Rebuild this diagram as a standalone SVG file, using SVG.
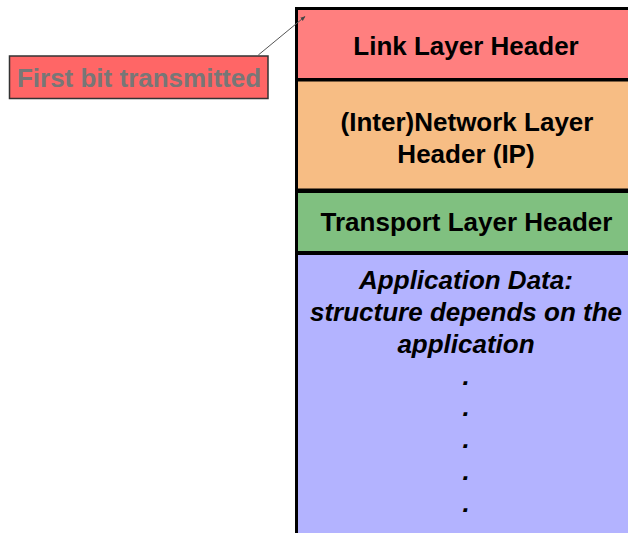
<svg xmlns="http://www.w3.org/2000/svg" width="628" height="533" viewBox="0 0 628 533">
<defs>
<style>
.box{stroke:#000;stroke-width:3}
.t{font-family:"Liberation Sans",Arial,sans-serif;font-weight:bold;font-size:26px;fill:#000;text-anchor:middle}
.i{font-style:italic}
.lbl{font-family:"Liberation Sans",Arial,sans-serif;font-weight:bold;font-size:26px;fill:#777777;text-anchor:middle}
</style>
<marker id="ah" viewBox="0 0 10 10" refX="9" refY="5" markerWidth="5" markerHeight="5" orient="auto">
<path d="M0,1 L10,5 L0,9 z" fill="#444"/>
</marker>
</defs>
<rect width="628" height="533" fill="#ffffff"/>
<g id="app">
<rect class="box" x="296.5" y="253.5" width="345" height="300" fill="#b3b3ff"/>
<text class="t i" x="466" y="289.3">Application Data:</text>
<text class="t i" x="466" y="321">structure depends on the</text>
<text class="t i" x="466" y="352.8">application</text>
<text class="t i" x="466" y="384.6">.</text>
<text class="t i" x="466" y="416.4">.</text>
<text class="t i" x="466" y="448.2">.</text>
<text class="t i" x="466" y="480">.</text>
<text class="t i" x="466" y="511.8">.</text>
</g>
<g id="transport">
<rect class="box" x="296.5" y="191.5" width="345" height="61" fill="#80c080"/>
<text class="t" x="466.5" y="231">Transport Layer Header</text>
</g>
<g id="network">
<rect class="box" x="296.5" y="80" width="345" height="110" fill="#f7bd84"/>
<text class="t" x="467" y="131">(Inter)Network Layer</text>
<text class="t" x="466" y="163.3">Header (IP)</text>
</g>
<g id="link">
<rect class="box" x="296.5" y="8.5" width="345" height="71" fill="#ff7f7f"/>
<text class="t" x="466" y="54.5">Link Layer Header</text>
</g>
<g id="label">
<rect x="9.5" y="56" width="258.5" height="42.5" fill="#ff6666" stroke="#333" stroke-width="1.5"/>
<text class="lbl" x="139" y="87.3">First bit transmitted</text>
</g>
<g id="connectors">
<line x1="258.3" y1="55" x2="305" y2="16.5" stroke="#555" stroke-width="1" marker-end="url(#ah)"/>
</g>
</svg>
